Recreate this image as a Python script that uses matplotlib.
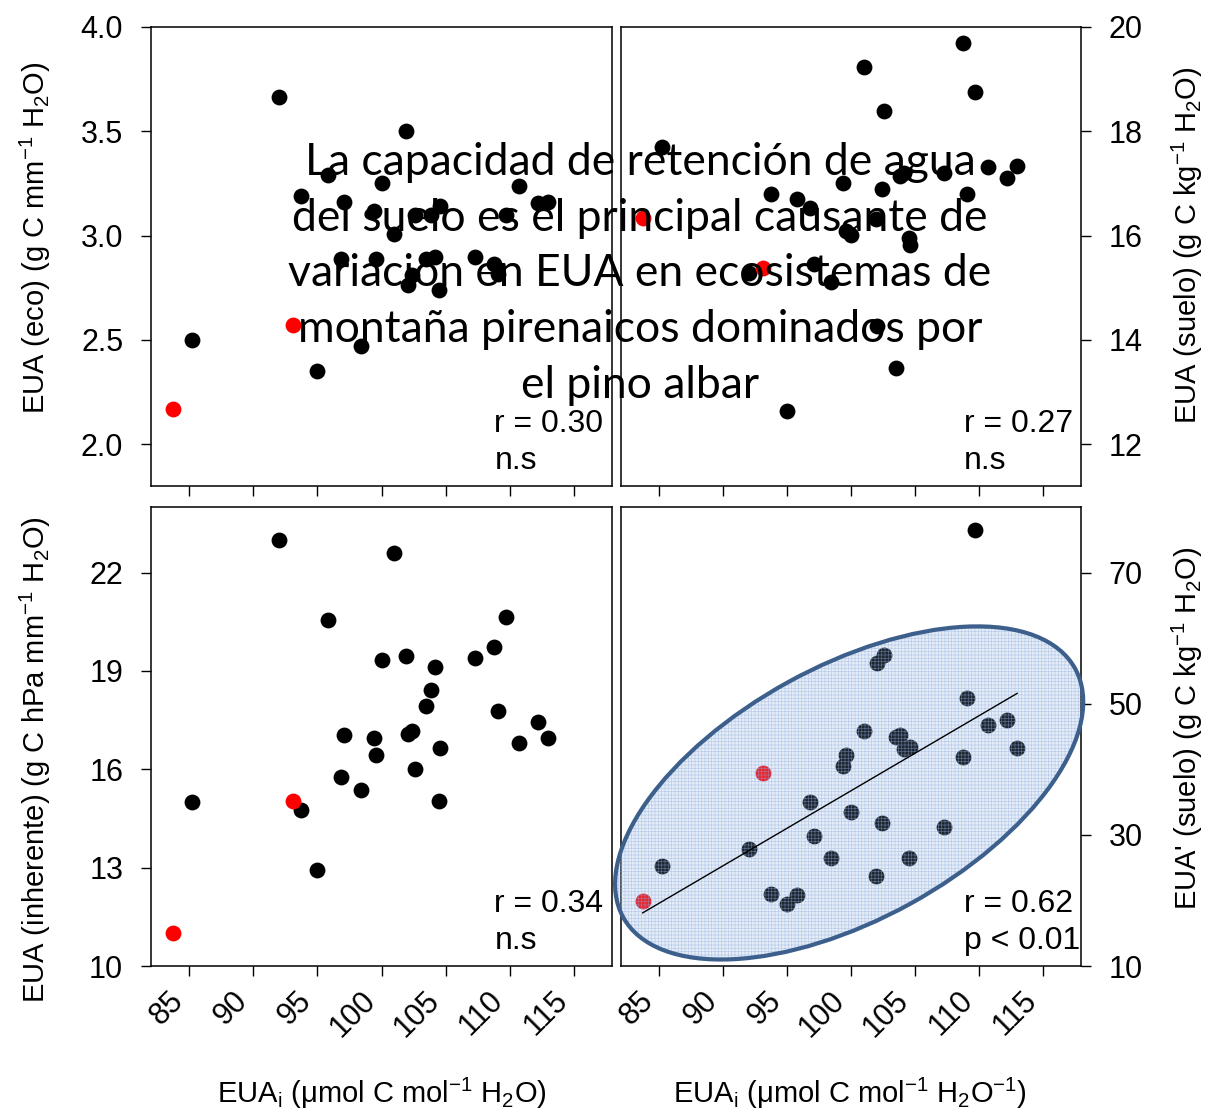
import numpy as np
import matplotlib
matplotlib.use('Agg')
import matplotlib.pyplot as plt
from matplotlib.patches import Ellipse

plt.rcParams['font.family'] = ['Liberation Sans', 'DejaVu Sans']
plt.rcParams['mathtext.fontset'] = 'custom'
plt.rcParams['mathtext.rm'] = 'Liberation Sans'
plt.rcParams['mathtext.it'] = 'Liberation Sans:italic'
plt.rcParams['hatch.linewidth'] = 0.5

# EUAi per site (same sites in the four panels); the first two are the red sites
eua_i = [83.7, 93.1, 85.2, 92.0, 93.7, 95.0, 95.8, 96.8, 97.1, 98.4,
         99.4, 99.6, 100.0, 101.0, 101.95, 102.05, 102.4, 102.6, 103.5, 103.85,
         104.15, 104.5, 104.6, 107.3, 108.75, 109.1, 109.7, 110.75, 112.2, 113.0]
n_red = 2

eua_eco = [2.17, 2.57, 2.50, 3.665, 3.19, 2.35, 3.29, 2.89, 3.16, 2.47,
           3.12, 2.89, 3.25, 3.01, 3.50, 2.765, 2.81, 3.10, 2.89, 3.10,
           2.90, 2.74, 3.14, 2.90, 2.865, 2.815, 3.10, 3.24, 3.155, 3.16]
eua_suelo = [16.33, 15.37, 17.69, 15.29, 16.79, 12.63, 16.70, 16.53, 15.46, 15.12,
             17.01, 16.09, 16.02, 19.24, 16.31, 14.26, 16.89, 18.38, 13.47, 17.14,
             17.20, 15.95, 15.83, 17.21, 19.70, 16.80, 18.75, 17.32, 17.10, 17.33]
eua_inherente = [11.02, 15.03, 15.01, 22.99, 14.77, 12.92, 20.56, 15.77, 17.06, 15.38,
                 16.95, 16.43, 19.34, 22.61, 19.47, 17.07, 17.17, 16.00, 17.94, 18.43,
                 19.13, 15.03, 16.64, 19.40, 19.74, 17.78, 20.65, 16.80, 17.45, 16.94]
eua_suelo_p = [19.97, 39.36, 25.27, 27.86, 20.99, 19.47, 20.89, 34.94, 29.75, 26.54,
               40.48, 42.21, 33.41, 45.78, 23.74, 56.16, 31.88, 57.48, 44.96, 45.17,
               43.03, 26.54, 43.44, 31.22, 41.91, 50.87, 76.46, 46.79, 47.51, 43.28]

x_ticks = [85, 90, 95, 100, 105, 110, 115]
stats = {'eco': ('r = 0.30', 'n.s'), 'suelo': ('r = 0.27', 'n.s'),
         'inh': ('r = 0.34', 'n.s'), 'suelo_p': ('r = 0.62', 'p < 0.01')}

message = ("La capacidad de retención de agua\n"
           "del suelo es el principal causante de\n"
           "variación en EUA en ecosistemas de\n"
           "montaña pirenaicos dominados por\n"
           "el pino albar")

W, H = 1209, 1115
fig = plt.figure(figsize=(W / 100, H / 100), dpi=100)


def px_axes(x0, y0, x1, y1):
    return fig.add_axes([x0 / W, 1 - y1 / H, (x1 - x0) / W, (y1 - y0) / H])


ax_eco = px_axes(151, 27, 612, 486)
ax_suelo = px_axes(621, 27, 1081, 486)
ax_inh = px_axes(151, 507, 612, 966)
ax_sp = px_axes(621, 507, 1081, 966)


def draw_panel(ax, y, ylim, yticks, yfmt, right, bottom, txt):
    x = np.array(eua_i)
    y = np.array(y)
    ax.scatter(x[n_red:], y[n_red:], s=130, color='black', zorder=3, linewidths=0)
    ax.scatter(x[:n_red], y[:n_red], s=130, color='red', zorder=3, linewidths=0)
    ax.set_xlim(82, 118)
    ax.set_ylim(*ylim)
    ax.set_xticks(x_ticks)
    ax.set_yticks(yticks)
    ax.set_yticklabels([yfmt.format(v) for v in yticks])
    for sp in ax.spines.values():
        sp.set_linewidth(1.1)
    ax.tick_params(direction='out', length=7, width=1.0, labelsize=22)
    ax.tick_params(axis='y', pad=13)
    if right:
        ax.yaxis.tick_right()
        ax.tick_params(axis='y', left=False, right=True, labelleft=False, labelright=True)
    if bottom:
        ax.set_xticklabels([str(v) for v in x_ticks], rotation=45, ha='right')
        ax.tick_params(axis='x', pad=7)
    else:
        ax.tick_params(axis='x', labelbottom=False)
    ax.text(0.745, 0.135, txt[0], transform=ax.transAxes, fontsize=23,
            ha='left', va='center', zorder=6)
    ax.text(0.745, 0.054, txt[1], transform=ax.transAxes, fontsize=23,
            ha='left', va='center', zorder=6)


draw_panel(ax_eco, eua_eco, (1.8, 4.0), [2.0, 2.5, 3.0, 3.5, 4.0], '{:.1f}', False, False, stats['eco'])
draw_panel(ax_suelo, eua_suelo, (11.2, 20), [12, 14, 16, 18, 20], '{:d}', True, False, stats['suelo'])
draw_panel(ax_inh, eua_inherente, (10, 24), [10, 13, 16, 19, 22], '{:d}', False, True, stats['inh'])
draw_panel(ax_sp, eua_suelo_p, (10, 80), [10, 30, 50, 70], '{:d}', True, True, stats['suelo_p'])

# regression line and highlight ellipse in the last panel
slope, icpt = np.polyfit(eua_i, eua_suelo_p, 1)
xl = np.array([min(eua_i), max(eua_i)])
ax_sp.plot(xl, slope * xl + icpt, color='black', lw=1.0, zorder=5)

fill = Ellipse((0.496, 0.377), 1.122, 0.551, angle=28.9, transform=ax_sp.transAxes,
               facecolor=(0.56, 0.69, 0.86, 0.22), edgecolor=(0.55, 0.68, 0.88, 0.5),
               hatch='+++++', lw=0, zorder=4, clip_on=False)
ax_sp.add_patch(fill)
ring = Ellipse((0.496, 0.377), 1.122, 0.551, angle=28.9, transform=ax_sp.transAxes,
               facecolor='none', edgecolor='#3d5f8c', lw=3.0, zorder=4, clip_on=False)
ax_sp.add_patch(ring)

# axis labels
lab = dict(fontsize=21, ha='center', va='center')
fig.text(35 / W, 1 - 238 / H, r'EUA (eco) (g C mm$^{-1}$ H$_2$O)', rotation=90, **lab)
fig.text(35 / W, 1 - 760 / H, r'EUA (inherente) (g C hPa mm$^{-1}$ H$_2$O)', rotation=90, **lab)
fig.text(1187 / W, 1 - 245 / H, r'EUA (suelo) (g C kg$^{-1}$ H$_2$O)', rotation=90, **lab)
fig.text(1187 / W, 1 - 728 / H, r"EUA' (suelo) (g C kg$^{-1}$ H$_2$O)", rotation=90, **lab)
fig.text(382 / W, 1 - 1093 / H, r'EUA$_\mathregular{i}$ (μmol C mol$^{-1}$ H$_2$O)', **lab)
fig.text(850 / W, 1 - 1093 / H, r'EUA$_\mathregular{i}$ (μmol C mol$^{-1}$ H$_2$O$^{-1}$)', **lab)

# overlaid message
fig.text(640 / W, 1 - 274 / H, message, fontsize=32, family=['Lato', 'DejaVu Sans'],
         ha='center', va='center', linespacing=1.44, zorder=10)

fig.savefig('out.png', dpi=100)
